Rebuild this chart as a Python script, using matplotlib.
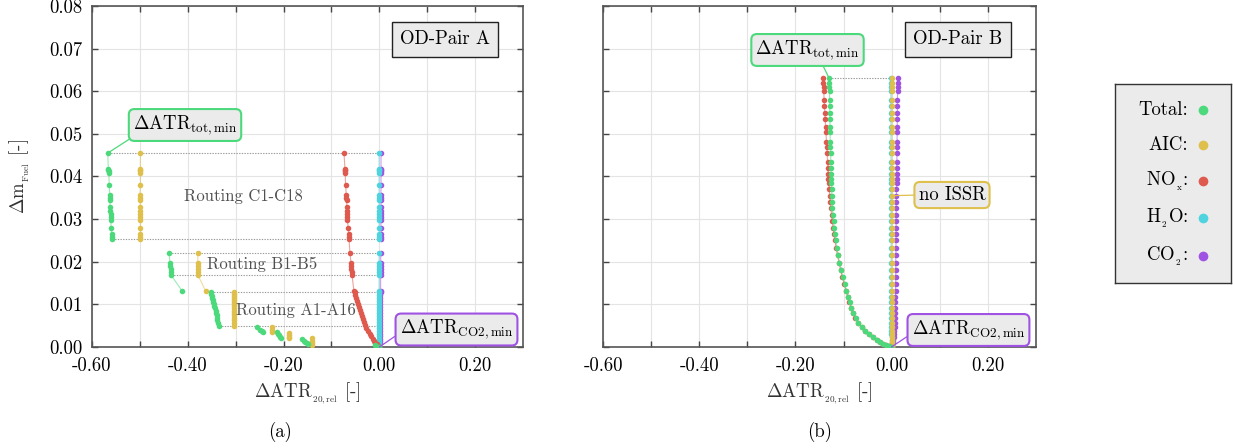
import matplotlib
matplotlib.use("Agg")
import matplotlib.pyplot as plt

plt.rcParams['font.family'] = ['cmr10', 'DejaVu Sans']
plt.rcParams['mathtext.fontset'] = 'cm'
plt.rcParams['axes.unicode_minus'] = False
plt.rcParams['axes.formatter.use_mathtext'] = True

# ---------------- colours ----------------
C_TOT = '#4CD97B'
C_AIC = '#DFC04C'
C_NOX = '#DE5A4E'
C_H2O = '#4FD3DE'
C_CO2 = '#A052E3'

# ---------------- OD-Pair A data ----------------
# Routing C1-C18
yC = [0.0455, 0.0418, 0.0415, 0.0412, 0.0408, 0.0380, 0.0356, 0.0350, 0.0344,
      0.0328, 0.0320, 0.0312, 0.0305, 0.0298, 0.0280, 0.0265, 0.0258, 0.0253]
totC = [-0.567, -0.566, -0.566, -0.565, -0.565, -0.564, -0.563, -0.563, -0.563,
        -0.562, -0.562, -0.561, -0.561, -0.561, -0.560, -0.559, -0.558, -0.558]
aicC = [-0.499, -0.499, -0.500, -0.499, -0.499, -0.499, -0.500, -0.499, -0.499,
        -0.499, -0.500, -0.499, -0.499, -0.499, -0.499, -0.499, -0.499, -0.499]
noxC = [-0.0738, -0.0718, -0.0717, -0.0715, -0.0713, -0.0705, -0.0690, -0.0686, -0.0684,
        -0.0680, -0.0678, -0.0674, -0.0670, -0.0667, -0.0650, -0.0640, -0.0636, -0.0634]
h2oC = [-0.0005, -0.0005, -0.0006, -0.0005, -0.0005, -0.0005, -0.0006, -0.0005, -0.0005,
        -0.0005, -0.0006, -0.0005, -0.0005, -0.0005, -0.0005, -0.0006, -0.0005, -0.0005]
co2C = [0.0036, 0.0035, 0.0035, 0.0035, 0.0035, 0.0034, 0.0034, 0.0034, 0.0034,
        0.0033, 0.0033, 0.0033, 0.0033, 0.0033, 0.0032, 0.0032, 0.0032, 0.0032]

# Routing B1-B5
yB = [0.0220, 0.0197, 0.0190, 0.0183, 0.0175, 0.0168, 0.0131]
totB = [-0.4386, -0.4375, -0.4365, -0.4358, -0.4350, -0.4344, -0.4115]
aicB = [-0.3790, -0.3790, -0.3790, -0.3790, -0.3788, -0.3785, -0.3626]
noxB = [-0.0613, -0.0592, -0.0588, -0.0583, -0.0577, -0.0570, -0.0530]
h2oB = [-0.0005, -0.0005, -0.0005, -0.0006, -0.0005, -0.0005, -0.0005]
co2B = [0.0030, 0.0029, 0.0029, 0.0029, 0.0028, 0.0028, 0.0026]

# Routing A1-A16
yA = [0.0129, 0.0124, 0.0120, 0.0116, 0.0111, 0.0106, 0.0101, 0.0096, 0.0091,
      0.0085, 0.0080, 0.0075, 0.0069, 0.0064, 0.0057, 0.0049]
totA = [-0.3515, -0.3505, -0.3495, -0.3485, -0.3475, -0.3467, -0.3455, -0.3445, -0.3435,
        -0.3420, -0.3410, -0.3400, -0.3390, -0.3380, -0.3365, -0.3340]
aicA = [-0.3030, -0.3030, -0.3030, -0.3031, -0.3030, -0.3030, -0.3030, -0.3031, -0.3030,
        -0.3030, -0.3030, -0.3031, -0.3030, -0.3030, -0.3030, -0.3030]

# low-fuel routings (small groups)
totL1_x = [-0.256, -0.250, -0.246, -0.243]
totL1_y = [0.0048, 0.0040, 0.0037, 0.0036]
totL2_x = [-0.214, -0.212, -0.210, -0.208, -0.206]
totL2_y = [0.0036, 0.0031, 0.0027, 0.0023, 0.0020]
totL3_x = [-0.162, -0.158, -0.155, -0.152, -0.150]
totL3_y = [0.0018, 0.0015, 0.0012, 0.0009, 0.0007]
totL4_x = [-0.010, -0.006, -0.003, 0.000]
totL4_y = [0.0005, 0.0003, 0.0001, 0.0000]
aicL1_x = [-0.225, -0.225, -0.225]
aicL1_y = [0.0046, 0.0041, 0.0036]
aicL2_x = [-0.188, -0.188, -0.188, -0.188]
aicL2_y = [0.0034, 0.0029, 0.0024, 0.0020]
aicL3_x = [-0.140, -0.140, -0.140, -0.140]
aicL3_y = [0.0020, 0.0015, 0.0010, 0.0005]

# dense NOx / H2O / CO2 near the origin
yD = [0.0129, 0.0122, 0.0115, 0.0108, 0.0101, 0.0094, 0.0087, 0.0080, 0.0073, 0.0066,
      0.0059, 0.0052, 0.0045, 0.0038, 0.0031, 0.0025, 0.0019, 0.0014, 0.0010, 0.0006,
      0.0003, 0.0001, 0.0000]
noxD = [-0.0518, -0.0500, -0.0482, -0.0464, -0.0445, -0.0426, -0.0405, -0.0384, -0.0363,
        -0.0342, -0.0320, -0.0296, -0.0271, -0.0235, -0.0200, -0.0170, -0.0138, -0.0108,
        -0.0082, -0.0054, -0.0032, -0.0014, -0.0003]
h2oD = [-0.0005, -0.0005, -0.0005, -0.0005, -0.0005, -0.0005, -0.0005, -0.0005, -0.0005,
        -0.0005, -0.0005, -0.0005, -0.0005, -0.0005, -0.0004, -0.0004, -0.0004, -0.0003,
        -0.0003, -0.0002, -0.0001, -0.0001, 0.0000]
co2D = [0.0025, 0.0024, 0.0023, 0.0022, 0.0021, 0.0020, 0.0019, 0.0018, 0.0017, 0.0016,
        0.0015, 0.0014, 0.0013, 0.0012, 0.0011, 0.0009, 0.0008, 0.0006, 0.0005, 0.0003,
        0.0002, 0.0001, 0.0000]

# ---------------- OD-Pair B data ----------------
yR = [0.0630, 0.0620, 0.0610, 0.0600, 0.0580, 0.0565, 0.0550, 0.0535, 0.0515, 0.0505,
      0.0480, 0.0470, 0.0455, 0.0435, 0.0420, 0.0405, 0.0395, 0.0385, 0.0370, 0.0355,
      0.0340, 0.0325, 0.0310, 0.0295, 0.0280, 0.0265, 0.0250, 0.0232, 0.0215, 0.0198,
      0.0180, 0.0165, 0.0148, 0.0132, 0.0118, 0.0105, 0.0092, 0.0080, 0.0068, 0.0057,
      0.0047, 0.0038, 0.0030, 0.0023, 0.0017, 0.0012, 0.0008, 0.0005, 0.0002, 0.0000]
totR = [-0.1296, -0.1295, -0.1293, -0.1292, -0.1290, -0.1288, -0.1286, -0.1284, -0.1282, -0.1280,
        -0.1276, -0.1274, -0.1270, -0.1266, -0.1263, -0.1260, -0.1257, -0.1254, -0.1250, -0.1245,
        -0.1238, -0.1230, -0.1220, -0.1208, -0.1195, -0.1180, -0.1163, -0.1140, -0.1113, -0.1085,
        -0.1050, -0.1020, -0.0980, -0.0940, -0.0905, -0.0875, -0.0840, -0.0800, -0.0750, -0.0690,
        -0.0620, -0.0550, -0.0470, -0.0390, -0.0310, -0.0240, -0.0170, -0.0110, -0.0050, -0.0005]
noxR = [-0.1420, -0.1418, -0.1415, -0.1412, -0.1405, -0.1398, -0.1390, -0.1383, -0.1374, -0.1368,
        -0.1355, -0.1350, -0.1342, -0.1333, -0.1325, -0.1318, -0.1313, -0.1307, -0.1298, -0.1288,
        -0.1277, -0.1263, -0.1250, -0.1235, -0.1218, -0.1200, -0.1180, -0.1155, -0.1125, -0.1095,
        -0.1058, -0.1027, -0.0986, -0.0945, -0.0909, -0.0878, -0.0842, -0.0802, -0.0752, -0.0692,
        -0.0622, -0.0552, -0.0472, -0.0392, -0.0312, -0.0242, -0.0172, -0.0112, -0.0052, -0.0006]
aicR = [0.0005, 0.0005, 0.0006, 0.0005, 0.0005, 0.0005, 0.0006, 0.0005, 0.0005, 0.0005,
        0.0005, 0.0006, 0.0005, 0.0005, 0.0005, 0.0005, 0.0006, 0.0005, 0.0005, 0.0005,
        0.0005, 0.0005, 0.0006, 0.0005, 0.0005, 0.0005, 0.0005, 0.0006, 0.0005, 0.0005,
        0.0005, 0.0005, 0.0005, 0.0006, 0.0005, 0.0005, 0.0005, 0.0005, 0.0005, 0.0005,
        0.0005, 0.0004, 0.0004, 0.0004, 0.0003, 0.0003, 0.0002, 0.0002, 0.0001, 0.0000]
h2oR = [-0.0018, -0.0018, -0.0018, -0.0017, -0.0017, -0.0017, -0.0017, -0.0016, -0.0016, -0.0016,
        -0.0016, -0.0015, -0.0015, -0.0015, -0.0015, -0.0014, -0.0014, -0.0014, -0.0014, -0.0013,
        -0.0013, -0.0013, -0.0013, -0.0012, -0.0012, -0.0012, -0.0011, -0.0011, -0.0011, -0.0010,
        -0.0010, -0.0010, -0.0009, -0.0009, -0.0008, -0.0008, -0.0007, -0.0007, -0.0006, -0.0006,
        -0.0005, -0.0004, -0.0004, -0.0003, -0.0002, -0.0002, -0.0001, -0.0001, 0.0000, 0.0000]
co2R = [0.0125, 0.0124, 0.0123, 0.0122, 0.0120, 0.0119, 0.0118, 0.0117, 0.0115, 0.0114,
        0.0112, 0.0111, 0.0110, 0.0108, 0.0106, 0.0104, 0.0103, 0.0102, 0.0100, 0.0098,
        0.0096, 0.0094, 0.0093, 0.0092, 0.0091, 0.0090, 0.0089, 0.0088, 0.0086, 0.0085,
        0.0084, 0.0083, 0.0082, 0.0080, 0.0079, 0.0078, 0.0076, 0.0073, 0.0070, 0.0066,
        0.0061, 0.0055, 0.0048, 0.0040, 0.0032, 0.0024, 0.0016, 0.0010, 0.0004, 0.0000]

# ---------------- labels ----------------
xtick_vals = [-0.6, -0.5, -0.4, -0.3, -0.2, -0.1, 0.0, 0.1, 0.2]
xtick_labels = ['-0.60', '', '-0.40', '', '-0.20', '', '0.00', '', '0.20']
ytick_vals = [0.0, 0.01, 0.02, 0.03, 0.04, 0.05, 0.06, 0.07, 0.08]
ytick_labels = ['0.00', '0.01', '0.02', '0.03', '0.04', '0.05', '0.06', '0.07', '0.08']
legend_names = ['Total:', 'AIC:', r'NO$_{_\mathrm{x}}$:', r'H$_{_2}$O:', r'CO$_{_2}$:']
legend_colors = [C_TOT, C_AIC, C_NOX, C_H2O, C_CO2]

FS = 13.5
fig = plt.figure(figsize=(12.33, 4.48), dpi=100)
W, H = 1233.0, 448.0
ax1 = fig.add_axes([92 / W, 101 / H, 431 / W, 341 / H])
ax2 = fig.add_axes([603 / W, 101 / H, 433 / W, 341 / H])


def series(ax, x, y, color, z):
    ax.plot(x, y, '-', color=color, lw=0.8, alpha=0.55, zorder=z)
    ax.plot(x, y, 'o', color=color, ms=4.0, mew=0, zorder=z + 0.1)


DOT = dict(color='#9a9a9a', lw=0.8, ls=(0, (1.2, 1.2)), zorder=1.5)

# ---- OD-Pair A ----
for yy, xx in [(yC[0], totC[0]), (yC[-1], totC[-1]), (yB[0], totB[0]), (yB[5], totB[5]),
               (yA[0], totA[0]), (yA[-1], totA[-1])]:
    ax1.hlines(yy, xx, h2oC[0], **DOT)

for x, y in [(co2C, yC), (co2B, yB), (co2D, yD)]:
    series(ax1, x, y, C_CO2, 3)
for x, y in [(h2oC, yC), (h2oB, yB), (h2oD, yD)]:
    series(ax1, x, y, C_H2O, 4)
series(ax1, noxC + noxB + noxD, yC + yB + yD, C_NOX, 5)
for x, y in [(aicC, yC), (aicB, yB), (aicA, yA), (aicL1_x, aicL1_y), (aicL2_x, aicL2_y),
             (aicL3_x, aicL3_y)]:
    series(ax1, x, y, C_AIC, 6)
for x, y in [(totC, yC), (totB, yB), (totA, yA), (totL1_x, totL1_y), (totL2_x, totL2_y),
             (totL3_x, totL3_y), (totL4_x, totL4_y)]:
    series(ax1, x, y, C_TOT, 7)

ax1.text(0.3515, 0.4428, 'Routing C1-C18', transform=ax1.transAxes, ha='center', va='center',
         fontsize=12, color='#505050', zorder=8)
ax1.text(0.394, 0.2434, 'Routing B1-B5', transform=ax1.transAxes, ha='center', va='center',
         fontsize=12, color='#505050', zorder=8)
ax1.text(0.4729, 0.1085, 'Routing A1-A16', transform=ax1.transAxes, ha='center', va='center',
         fontsize=12, color='#505050', zorder=8)

# ---- OD-Pair B ----
ax2.hlines(yR[0], totR[0], aicR[0], **DOT)
series(ax2, co2R, yR, C_CO2, 3)
series(ax2, h2oR, yR, C_H2O, 4)
series(ax2, aicR, yR, C_AIC, 5)
series(ax2, noxR, yR, C_NOX, 6)
series(ax2, totR, yR, C_TOT, 7)

# ---- axes styling ----
for ax in (ax1, ax2):
    ax.set_xlim(-0.6, 0.3)
    ax.set_ylim(0.0, 0.08)
    ax.set_xticks(xtick_vals)
    ax.set_xticklabels(xtick_labels)
    ax.set_yticks(ytick_vals)
    ax.grid(True, color='#e4e4e4', lw=0.8, zorder=0)
    ax.set_axisbelow(True)
    ax.tick_params(direction='in', length=4, width=1.0, color='#444444', top=True, right=True,
                   labelsize=FS, pad=7)
    for s in ax.spines.values():
        s.set_color('#555555')
        s.set_linewidth(1.2)
    ax.set_xlabel(r'$\Delta$ATR$_{_{\mathrm{20,rel}}}$ [-]', fontsize=FS, color='#333333', labelpad=4)

ax1.set_yticklabels(ytick_labels)
ax2.set_yticklabels([])
ax1.set_ylabel(r'$\Delta$m$_{_{\mathrm{Fuel}}}$ [-]', fontsize=FS, color='#333333', labelpad=12)

BOXA = dict(boxstyle='square,pad=0.45', fc='#ebebeb', ec='#222222', lw=1.0)
ax1.text(0.819, 0.9018, 'OD-Pair A', transform=ax1.transAxes, ha='center', va='center',
         fontsize=FS, bbox=BOXA, zorder=10)
ax2.text(0.820, 0.9018, 'OD-Pair B', transform=ax2.transAxes, ha='center', va='center',
         fontsize=FS, bbox=BOXA, zorder=10)


def callout(ax, text, xy, xytext, color, rel):
    ax.annotate(text, xy=xy, xycoords='data', xytext=xytext, textcoords='axes fraction',
                ha='center', va='center', fontsize=FS, zorder=10,
                bbox=dict(boxstyle='round,pad=0.22,rounding_size=0.3', fc='#ebebeb', ec=color, lw=1.5),
                arrowprops=dict(arrowstyle='-', color=color, lw=0.9, relpos=rel,
                                shrinkA=0, shrinkB=0))


callout(ax1, r'$\Delta$ATR$_{\mathrm{tot,min}}$', (totC[0], yC[0]), (0.2158, 0.651), C_TOT, (0.0, 0.0))
callout(ax1, r'$\Delta$ATR$_{\mathrm{CO2,min}}$', (totL4_x[-1], totL4_y[-1]), (0.8457, 0.0513), C_CO2, (0.0, 0.35))
callout(ax2, r'$\Delta$ATR$_{\mathrm{tot,min}}$', (totR[0], yR[0]), (0.4723, 0.871), C_TOT, (0.63, 0.0))
callout(ax2, 'no ISSR', (aicR[19], yR[19]), (0.806, 0.4457), C_AIC, (0.0, 0.5))
callout(ax2, r'$\Delta$ATR$_{\mathrm{CO2,min}}$', (totR[-1], yR[-1]), (0.844, 0.0499), C_CO2, (0.0, 0.35))

fig.text(280 / W, 1 - 432 / H, '(a)', ha='center', va='center', fontsize=FS)
fig.text(820 / W, 1 - 432 / H, '(b)', ha='center', va='center', fontsize=FS)

# ---- legend panel ----
lax = fig.add_axes([1115 / W, (H - 283) / H, 116 / W, 199 / H])
lax.set_facecolor('#ebebeb')
lax.set_xlim(0, 1)
lax.set_ylim(0, 1)
lax.set_xticks([])
lax.set_yticks([])
for s in lax.spines.values():
    s.set_color('#333333')
    s.set_linewidth(1.0)
rows_px = [110, 145, 181, 218, 256]
for name, col, py in zip(legend_names, legend_colors, rows_px):
    yy = (283 - py) / 199.0
    lax.text(0.63, yy, name, ha='right', va='center', fontsize=FS)
    lax.plot([0.755], [yy], 'o', color=col, ms=7, mew=0)

fig.savefig('out.png', dpi=100, facecolor='white')
